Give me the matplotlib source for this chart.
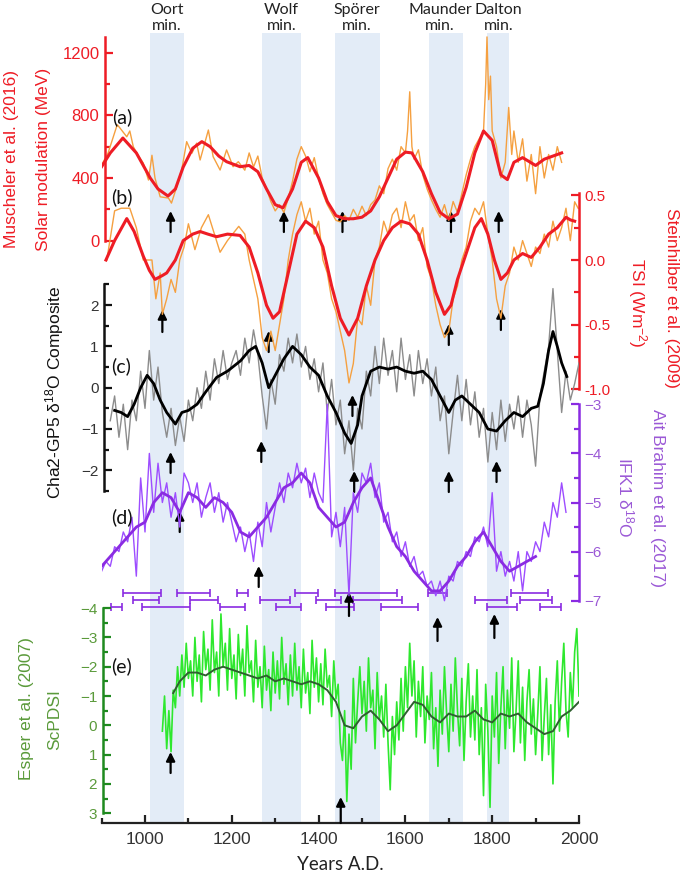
import numpy as np
import matplotlib
matplotlib.use("Agg")
import matplotlib.pyplot as plt
from matplotlib.ticker import FixedLocator

# ---------------- data ----------------
# (a) Solar modulation (MeV), Muscheler et al. (2016)
a_thin_yr = [900, 915, 936, 942, 958, 965, 973, 985, 996, 1008, 1016, 1023, 1035, 1054, 1061, 1073, 1085,
             1096, 1108, 1119, 1127, 1146, 1157, 1173, 1188, 1203, 1215, 1230, 1240, 1250, 1260, 1270, 1280,
             1290, 1300, 1310, 1320, 1330, 1340, 1350, 1360, 1370, 1380, 1390, 1400, 1410, 1420, 1430, 1440,
             1450, 1460, 1470, 1480, 1490, 1500, 1510, 1520, 1530, 1540, 1550, 1560, 1570, 1580, 1590, 1600,
             1605, 1610, 1615, 1620, 1630, 1640, 1650, 1660, 1670, 1680, 1690, 1700, 1710, 1720, 1730, 1740,
             1750, 1760, 1770, 1780, 1785, 1788, 1792, 1796, 1800, 1810, 1820, 1830, 1838, 1845, 1850, 1860,
             1870, 1880, 1890, 1900, 1910, 1920, 1930, 1940, 1950, 1960]
a_thin_val = [483, 560, 740, 720, 663, 700, 600, 540, 495, 387, 545, 400, 280, 272, 240, 343, 458,
              632, 558, 622, 515, 706, 536, 451, 579, 472, 504, 450, 560, 470, 540, 400, 330,
              250, 190, 230, 180, 270, 380, 520, 600, 540, 440, 530, 400, 300, 230, 180, 130,
              120, 160, 130, 200, 150, 220, 160, 230, 260, 350, 300, 460, 520, 450, 600, 560,
              700, 950, 600, 520, 580, 420, 330, 260, 200, 150, 230, 130, 250, 180, 300, 420,
              520, 600, 650, 700, 1000, 1300, 900, 1050, 700, 600, 400, 500, 850, 550, 700, 500,
              650, 380, 550, 300, 600, 400, 550, 450, 600, 500]
a_smooth_yr = [900, 920, 949, 980, 1012, 1030, 1053, 1070, 1088, 1110, 1131, 1150, 1170, 1188, 1219, 1240,
               1260, 1280, 1300, 1318, 1340, 1360, 1375, 1400, 1420, 1440, 1460, 1480, 1500, 1520, 1540,
               1560, 1580, 1600, 1615, 1640, 1660, 1680, 1700, 1720, 1740, 1760, 1780, 1800, 1820, 1835,
               1850, 1870, 1900, 1920, 1940, 1960]
a_smooth_val = [472, 560, 655, 560, 400, 330, 285, 330, 470, 590, 632, 600, 540, 504, 472, 480,
                440, 330, 230, 210, 330, 500, 530, 400, 250, 160, 140, 140, 150, 190, 280,
                400, 520, 565, 560, 440, 300, 180, 140, 170, 340, 560, 700, 640, 420, 390,
                500, 530, 480, 520, 540, 560]

# (b) TSI (W m-2), Steinhilber et al. (2009)
b_thin_yr = [912, 930, 945, 965, 980, 996, 1016, 1025, 1035, 1040, 1050, 1060, 1070, 1080, 1090, 1100,
             1115, 1130, 1146, 1160, 1173, 1190, 1216, 1230, 1240, 1250, 1260, 1270, 1280, 1290, 1300,
             1310, 1320, 1330, 1340, 1350, 1360, 1370, 1380, 1390, 1400, 1410, 1420, 1430, 1440, 1450,
             1460, 1470, 1480, 1490, 1500, 1510, 1520, 1530, 1540, 1550, 1560, 1570, 1580, 1590, 1600,
             1610, 1620, 1630, 1640, 1650, 1660, 1670, 1680, 1690, 1700, 1710, 1720, 1730, 1740, 1750,
             1760, 1770, 1780, 1790, 1800, 1810, 1820, 1830, 1840, 1850, 1860, 1870, 1880, 1890, 1900,
             1910, 1920, 1930, 1940, 1950, 1960, 1970, 1980, 1990, 1998]
b_thin_val = [0.0, 0.38, 0.4, 0.4, 0.25, 0.0, 0.0, -0.3, -0.1, -0.42, -0.3, -0.15, -0.25, 0.0, 0.1, 0.28,
              0.08, 0.25, 0.35, 0.2, 0.06, 0.15, 0.26, 0.2, 0.0, -0.15, -0.3, -0.6, -0.7, -0.55, -0.7,
              -0.5, -0.3, 0.0, 0.2, 0.35, 0.45, 0.3, 0.4, 0.2, 0.3, 0.0, -0.1, -0.3, -0.4, -0.55,
              -0.7, -0.95, -0.8, -0.45, -0.5, -0.2, -0.35, 0.0, 0.1, 0.3, 0.2, 0.35, 0.4, 0.25, 0.45,
              0.3, 0.35, 0.15, 0.25, -0.05, -0.15, -0.35, -0.5, -0.6, -0.55, -0.3, -0.2, 0.0, 0.1, 0.3,
              0.4, 0.35, 0.45, 0.2, 0.0, -0.3, -0.45, -0.2, -0.1, 0.1, 0.0, 0.15, 0.05, -0.05, 0.1,
              0.05, 0.2, 0.1, 0.3, 0.15, 0.25, 0.4, 0.15, 0.45, 0.4]
b_smooth_yr = [910, 930, 958, 975, 996, 1010, 1023, 1040, 1050, 1070, 1088, 1110, 1127, 1145, 1165, 1190,
               1219, 1240, 1260, 1280, 1295, 1310, 1330, 1350, 1370, 1390, 1410, 1430, 1450, 1470, 1490,
               1510, 1530, 1550, 1570, 1590, 1610, 1630, 1650, 1670, 1690, 1705, 1720, 1740, 1760, 1775,
               1790, 1805, 1820, 1835, 1850, 1870, 1890, 1910, 1930, 1950, 1970, 1980, 1990]
b_smooth_val = [0.0, 0.15, 0.32, 0.22, 0.03, -0.08, -0.15, -0.12, -0.10, 0.0, 0.15, 0.2, 0.22, 0.2, 0.18, 0.2,
                0.19, 0.1, -0.1, -0.35, -0.45, -0.4, -0.1, 0.2, 0.3, 0.25, 0.1, -0.2, -0.45, -0.58, -0.45,
                -0.2, 0.0, 0.15, 0.25, 0.3, 0.28, 0.2, 0.0, -0.25, -0.42, -0.35, -0.15, 0.05, 0.25, 0.32,
                0.2, 0.0, -0.15, -0.1, 0.0, 0.05, 0.02, 0.1, 0.2, 0.25, 0.33, 0.31, 0.3]

# (c) Cha2-GP5 d18O composite
c_thin_yr = list(range(920, 2001, 10))
c_thin_val = [-0.8, -0.2, -1.2, -0.4, -1.5, -0.3, -0.8, 0.4, -0.5, 0.9, -0.3, 0.5, -0.6, -1.2, -0.5, -1.4,
              -0.7, -1.3, -0.3, -0.8, 0.0, -0.5, 0.4, -0.3, 0.7, 0.1, 0.9, 0.2, 0.6, 0.9, 0.3, 1.2,
              0.6, 1.4, 0.8, -0.2, -1.0, 0.2, -0.4, 0.8, 0.4, 1.2, 0.6, 1.3, 0.5, 1.0, 0.2, 0.7,
              -0.1, 0.6, -0.6, 0.2, -0.9, -0.3, -1.6, -0.8, -2.0, -0.5, -1.0, 0.4, -0.2, 1.0, 0.1,
              1.2, 0.3, 0.9, -0.1, 1.2, 0.2, 0.8, -0.2, 0.9, 0.1, 0.7, -0.2, 0.5, -0.8, -0.2, -1.6,
              -0.6, 0.3, -0.8, 0.2, -0.9, -0.1, -1.2, -0.5, -1.8, -0.6, -1.5, -0.3, -1.3, -0.4, -1.0,
              -0.2, -1.2, -0.3, -0.9, -1.9, -0.2, 0.4, 1.0, 2.4, 0.9, -0.6, 0.4, -0.3, 0.1, 0.6]
c_smooth_yr = [930, 945, 960, 975, 990, 1005, 1020, 1035, 1050, 1070, 1085, 1100, 1120, 1140, 1165, 1190,
               1220, 1240, 1255, 1270, 1285, 1300, 1320, 1340, 1360, 1380, 1400, 1420, 1440, 1460, 1475,
               1490, 1500, 1520, 1540, 1560, 1580, 1600, 1620, 1640, 1660, 1680, 1700, 1715, 1730, 1750,
               1770, 1790, 1810, 1830, 1850, 1870, 1890, 1905, 1918, 1930, 1940, 1950, 1960, 1972]
c_smooth_val = [-0.55, -0.6, -0.7, -0.4, 0.0, 0.3, 0.1, -0.3, -0.6, -0.88, -0.6, -0.55, -0.4, -0.1, 0.25, 0.4,
                0.65, 0.9, 1.0, 0.6, 0.0, 0.3, 0.7, 1.0, 0.8, 0.5, 0.3, -0.2, -0.6, -1.1, -1.35,
                -0.9, -0.2, 0.4, 0.5, 0.45, 0.5, 0.4, 0.35, 0.4, 0.2, -0.2, -0.6, -0.3, -0.2, -0.4,
                -0.6, -1.0, -1.05, -0.8, -0.6, -0.7, -0.5, -0.45, 0.1, 0.9, 1.36, 1.0, 0.6, 0.27]

# (d) IFK1 d18O, Ait Brahim et al. (2017)
d_thin_yr = list(range(900, 1971, 10))
d_thin_val = [-6.4, -6.2, -6.3, -5.9, -6.0, -5.6, -5.8, -5.3, -6.5, -4.5, -5.6, -4.0, -5.2, -4.2, -5.0, -4.6,
              -5.3, -4.8, -5.5, -4.4, -4.6, -5.0, -4.6, -5.3, -4.9, -4.6, -5.2, -4.8, -5.4, -5.0, -5.4,
              -5.8, -5.5, -6.0, -5.6, -6.2, -5.4, -5.9, -5.0, -5.6, -5.1, -4.6, -5.0, -4.4, -4.7, -4.2,
              -4.6, -4.3, -4.9, -4.4, -4.8, -5.0, -3.0, -5.7, -5.2, -5.9, -5.1, -6.9, -4.8, -5.2, -4.4,
              -4.6, -4.2, -4.9, -4.6, -5.4, -5.2, -5.8, -5.6, -6.1, -5.8, -6.3, -6.1, -6.5, -6.4, -6.7,
              -6.6, -6.9, -6.6, -7.0, -6.5, -6.6, -6.2, -6.3, -6.0, -6.1, -5.7, -5.8, -5.5, -5.9, -4.8,
              -6.4, -6.0, -6.5, -6.2, -6.6, -6.0, -6.8, -6.0, -6.2, -5.8, -6.0, -5.4, -5.7, -5.0, -5.3,
              -4.6, -5.2]
d_smooth_yr = list(range(900, 1901, 20))
d_smooth_val = [-6.3, -6.1, -5.9, -5.7, -5.5, -5.4, -5.0, -4.8, -4.9, -5.2, -4.8, -4.9, -5.1, -4.9, -5.0, -5.2,
                -5.6, -5.7, -5.5, -5.3, -5.0, -4.7, -4.6, -4.4, -4.6, -5.1, -5.3, -5.5, -5.4, -5.0, -4.7,
                -4.5, -5.0, -5.5, -5.9, -6.1, -6.4, -6.6, -6.8, -6.8, -6.6, -6.3, -6.1, -5.8, -5.6, -5.9,
                -6.2, -6.4, -6.3, -6.2, -6.1]
# U-Th age uncertainties: (row, start year, end year)
d_age_row = [1, 1, 1, 1, 1, 1, 1,
             2, 2, 2, 2, 2, 2, 2,
             3, 3, 3, 3, 3, 3, 3, 3]
d_age_lo = [949, 1074, 1212, 1346, 1438, 1652, 1843,
            972, 1104, 1265, 1394, 1479, 1760, 1864,
            922, 993, 1173, 1302, 1417, 1544, 1788, 1910]
d_age_hi = [1037, 1150, 1237, 1399, 1581, 1696, 1929,
            1032, 1168, 1334, 1452, 1592, 1834, 1938,
            947, 1104, 1230, 1359, 1482, 1629, 1857, 1959]

# (e) ScPDSI, Esper et al. (2007)
e_thin_yr = list(range(1040, 2001, 5))
e_thin_val = [0.2, -1.0, 0.8, -0.5, 0.9,
              -1.2, -0.6, -2.0, -1.0, -2.4, -1.3, -2.8, -1.6,
              -2.2, -1.0, -3.0, -1.5, -2.4, -0.8, -3.2, -1.9, -2.6, -1.2,
              -3.6, -1.8, -2.5, -1.0, -3.8, -2.0, -2.8, -1.2, -3.3, -1.6,
              -2.4, -0.9, -3.1, -1.7, -2.6, -1.0, -3.4, -1.8, -2.2, -0.8,
              -2.9, -1.3, -2.0, -0.6, -2.7, -1.2, -1.9, -0.5, -2.5, -1.1,
              -2.2, -0.9, -3.0, -1.4, -2.1, -0.7, -2.4, -1.0, -2.8, -1.2,
              -2.0, -0.6, -2.6, -1.1, -1.8, -0.4, -2.9, -1.3, -2.3, -0.8,
              -2.1, -0.7, -2.6, -1.3, -1.7, -0.3, -2.2, -0.9, -1.4, 0.6,
              1.2, -0.5, 2.6, 0.3, 1.5, -1.6, 0.6, -0.8, -2.0, -0.4,
              -1.5, 0.2, -2.3, -0.6, -1.2, 0.8, -1.8, -0.2, -1.0, 0.4,
              -1.4, 0.6, 2.2, -0.3, 1.0, -0.8, 0.5, -1.6, 0.2, -2.0,
              -0.6, -2.8, -1.0, -2.2, 0.4, -1.5, -0.3, -2.0, 0.6, -1.0,
              -0.2, -1.8, 0.8, -0.6, 1.4, -1.2, 0.3, -2.0, -0.4, 0.9,
              -1.4, 0.2, -2.3, -0.5, 0.7, -1.6, 1.2, -0.8, -2.1, 0.4,
              -1.0, 0.5, -1.9, 1.0, -0.6, 2.4, -1.4, 0.2, 2.8, -1.0,
              0.4, -1.8, 1.3, -0.6, -2.0, 0.8, -1.2, 0.1, -2.3, 0.9,
              -0.5, -2.2, 0.6, -1.3, 1.2, -0.8, -1.9, 0.3, -0.9, 1.0,
              -0.4, -2.0, 1.2, -0.3, -1.6, 1.0, -0.7, 2.0, -0.8, -2.2,
              0.2, -1.5, -2.8, -0.5, 0.4, -1.8, -0.6, -2.5, -3.3, -1.0]
e_smooth_yr = [1065, 1080, 1100, 1120, 1140, 1160, 1180, 1200, 1220, 1240, 1260, 1280, 1300, 1320, 1340, 1360,
               1380, 1400, 1420, 1440, 1460, 1480, 1500, 1520, 1540, 1560, 1580, 1600, 1620, 1640, 1660,
               1680, 1700, 1720, 1740, 1760, 1780, 1800, 1820, 1840, 1860, 1880, 1900, 1920, 1940, 1960,
               1980, 2000]
e_smooth_val = [-1.1, -1.5, -1.8, -1.8, -1.7, -1.9, -2.0, -1.9, -1.8, -1.7, -1.6, -1.7, -1.5, -1.6, -1.5, -1.4,
                -1.5, -1.4, -1.2, -0.8, 0.0, 0.1, -0.3, -0.5, -0.2, 0.2, 0.0, -0.4, -0.8, -0.7, -0.3,
                -0.1, -0.4, -0.3, -0.3, -0.5, -0.2, -0.1, -0.4, -0.3, -0.4, -0.1, 0.1, 0.3, 0.2, -0.3,
                -0.5, -0.8]

# solar minima (name, start, end)
min_names = ["Oort\nmin.", "Wolf\nmin.", "Spörer\nmin.", "Maunder\nmin.", "Dalton\nmin."]
min_start = [1011, 1270, 1438, 1655, 1787]
min_end = [1090, 1360, 1541, 1732, 1839]

x_ticks = [1000, 1200, 1400, 1600, 1800, 2000]

# ---------------- layout helpers ----------------
W, H = 685, 874
X0, X1 = 101.6, 579.0          # pixel x of years 900 / 2000
L = X0 / W
WW = (X1 - X0) / W

def yr_of_px(px):
    return 900 + (px - X0) / (X1 - X0) * 1100

RED = '#ee1c25'
ORANGE = '#f5a040'
PURPLE = '#8a2be2'
PURPLE_TXT = '#9b59d6'
GREEN_LINE = '#2ee82e'
GREEN_SP = '#1f8a1f'
GREEN_TXT = '#5a9a3a'
BAND = '#e3ecf7'

plt.rcParams['font.family'] = ['Liberation Sans', 'DejaVu Sans']
plt.rcParams['mathtext.fontset'] = 'custom'
plt.rcParams['mathtext.rm'] = 'Liberation Sans'
plt.rcParams['mathtext.it'] = 'Liberation Sans:italic'

fig = plt.figure(figsize=(W / 100, H / 100), dpi=100)

# base axes in pixel coordinates (y = pixel from top)
ax0 = fig.add_axes([L, 0, WW, 1])
ax0.set_xlim(900, 2000)
ax0.set_ylim(H, 0)
ax0.patch.set_alpha(0)
for s in ['top', 'left', 'right']:
    ax0.spines[s].set_visible(False)
ax0.spines['bottom'].set_position(('data', 822.7))
ax0.spines['bottom'].set_linewidth(1.6)
ax0.spines['bottom'].set_color('#222222')
ax0.set_yticks([])
ax0.set_xticks(x_ticks)
ax0.xaxis.set_minor_locator(FixedLocator([900, 1100, 1300, 1500, 1700, 1900]))
ax0.tick_params(axis='x', which='major', direction='in', length=6, width=1.6, color='#222222',
                labelsize=12.5, labelcolor='#333333', pad=7)
ax0.tick_params(axis='x', which='minor', direction='in', length=3.5, width=1.6, color='#222222')
ax0.set_xlabel('Years A.D.', fontsize=13.5, family=['Lato', 'DejaVu Sans'], color='#222222', labelpad=6)

# bands
for s, e in zip(min_start, min_end):
    ax0.fill_between([s, e], [33, 33], [822.7, 822.7], color=BAND, lw=0, zorder=0)

# minima labels
for name, s, e, cx in zip(min_names, min_start, min_end, [166.7, 281.7, 356.7, 440, 498.3]):
    fig.text(cx / W, 1 - 18 / H, name, ha='center', va='center', fontsize=11.5,
             family=['Lato', 'DejaVu Sans'], color='#222222', linespacing=1.25)


def panel(p0, k):
    """axes covering full figure height with value->pixel y = p0 - v*k"""
    ax = fig.add_axes([L, 0, WW, 1])
    ax.patch.set_alpha(0)
    ax.set_xlim(900, 2000)
    ax.set_ylim((p0 - H) / k, p0 / k)
    ax.set_xticks([])
    for s in ['top', 'bottom', 'left', 'right']:
        ax.spines[s].set_visible(False)
    return ax


def style_axis(ax, side, bounds, major, minor, color, labcolor, labsize, xpos=None):
    sp = ax.spines[side]
    sp.set_visible(True)
    sp.set_color(color)
    sp.set_linewidth(1.8)
    sp.set_bounds(*bounds)
    if xpos is not None:
        sp.set_position(('data', xpos))
    ax.yaxis.set_ticks_position(side)
    ax.yaxis.set_label_position(side)
    ax.set_yticks(major)
    ax.yaxis.set_minor_locator(FixedLocator(minor))
    ax.tick_params(axis='y', which='major', direction='in', length=6, width=1.6, color=color,
                   labelsize=labsize, labelcolor=labcolor, pad=4)
    ax.tick_params(axis='y', which='minor', direction='in', length=3.5, width=1.6, color=color)


# (a)
axa = panel(240.7, 62.7 / 400)
axa.plot(a_thin_yr, a_thin_val, color=ORANGE, lw=1.0)
axa.plot(a_smooth_yr, a_smooth_val, color=RED, lw=2.2)
style_axis(axa, 'left', (0, 1300), [0, 400, 800, 1200], [200, 600, 1000], RED, RED, 12,
           xpos=yr_of_px(105))

# (b)
axb = panel(260.0, 129.4)
axb.plot(b_thin_yr, b_thin_val, color=ORANGE, lw=1.0)
axb.plot(b_smooth_yr, b_smooth_val, color=RED, lw=2.2)
style_axis(axb, 'right', (-1.0, 0.52), [-1.0, -0.5, 0.0, 0.5], [-0.75, -0.25, 0.25], RED, RED, 11)
axb.set_yticklabels(['-1.0', '-0.5', '0.0', '0.5'])

# (c)
axc = panel(387.7, 41.3)
axc.plot(c_thin_yr, c_thin_val, color='#8c8c8c', lw=1.0)
axc.plot(c_smooth_yr, c_smooth_val, color='black', lw=2.0)
style_axis(axc, 'left', (-2.5, 2.5), [-2, -1, 0, 1, 2], [-2.5, -1.5, -0.5, 0.5, 1.5, 2.5], '#111111',
           '#333333', 11, xpos=yr_of_px(104.3))

# (d)
axd = panel(404.3 - 3 * 49.1, 49.1)
axd.plot(d_thin_yr, d_thin_val, color='#9d4dff', lw=1.0)
axd.plot(d_smooth_yr, d_smooth_val, color=PURPLE, lw=2.0)
style_axis(axd, 'right', (-7, -3), [-7, -6, -5, -4, -3], [-6.5, -5.5, -4.5, -3.5], PURPLE, PURPLE_TXT, 11)

# age uncertainty bars
row_px = {1: 592.7, 2: 600.0, 3: 607.3}
for r, lo, hi in zip(d_age_row, d_age_lo, d_age_hi):
    ax0.errorbar([(lo + hi) / 2], [row_px[r]], xerr=[(hi - lo) / 2], fmt='none', ecolor=PURPLE,
                 elinewidth=1.2, capsize=3, capthick=1.2, zorder=3)

# (e)
axe = panel(725.3, -29.3)
axe.plot(e_thin_yr, e_thin_val, color=GREEN_LINE, lw=1.2)
axe.plot(e_smooth_yr, e_smooth_val, color='#2f5f2f', lw=1.4)
style_axis(axe, 'left', (-4, 3), [-4, -3, -2, -1, 0, 1, 2, 3], [-3.5, -2.5, -1.5, -0.5, 0.5, 1.5, 2.5],
           GREEN_SP, GREEN_TXT, 11, xpos=yr_of_px(102.7))

# arrows (year, tail pixel y, tip pixel y)
arrows = [(1059, 232, 211), (1320, 232, 211), (1455, 232, 211), (1705, 232, 211), (1815, 232, 211),
          (1040, 332, 310), (1285, 352, 331), (1478, 416, 395), (1700, 345, 324), (1820, 330, 309),
          (1059, 473, 452), (1268, 462, 441), (1482, 492, 471), (1700, 492, 471), (1810, 482, 461),
          (1080, 532, 511), (1262, 587, 566), (1470, 616, 592), (1674, 641, 617), (1805, 638, 614),
          (1059, 773, 752), (1451, 823, 797)]
for yr, tail, tip in arrows:
    ax0.annotate('', xy=(yr, tip), xytext=(yr, tail),
                 arrowprops=dict(arrowstyle='-|>', color='black', lw=1.6, mutation_scale=13,
                                 shrinkA=0, shrinkB=0), zorder=6)

# panel letters
for lab, (px, py) in zip(['(a)', '(b)', '(c)', '(d)', '(e)'],
                         [(122, 117), (122, 197), (121, 366), (122, 517), (122, 666)]):
    fig.text(px / W, 1 - py / H, lab, ha='center', va='center', fontsize=14,
             family=['Lato', 'DejaVu Sans'], color='#111111')

# axis titles
def vtext(px, py, s, color, rot=90):
    fig.text(px / W, 1 - py / H, s, ha='center', va='center', rotation=rot, fontsize=12.5, color=color)

vtext(12, 159, 'Muscheler et al. (2016)', RED)
vtext(44, 159, 'Solar modulation (MeV)', RED)
vtext(55, 392, 'Cha2-GP5 δ$^{18}$O Composite', '#111111')
vtext(27, 709, 'Esper et al. (2007)', GREEN_TXT)
vtext(55, 720, 'ScPDSI', GREEN_TXT)
vtext(637, 303, 'TSI (Wm$^{-2}$)', RED, rot=-90)
vtext(672, 298, 'Steinhilber et al. (2009)', RED, rot=-90)
vtext(626, 497, 'IFK1 δ$^{18}$O', PURPLE_TXT, rot=-90)
vtext(658, 498, 'Ait Brahim et al. (2017)', PURPLE_TXT, rot=-90)

fig.savefig('out.png', dpi=100)
